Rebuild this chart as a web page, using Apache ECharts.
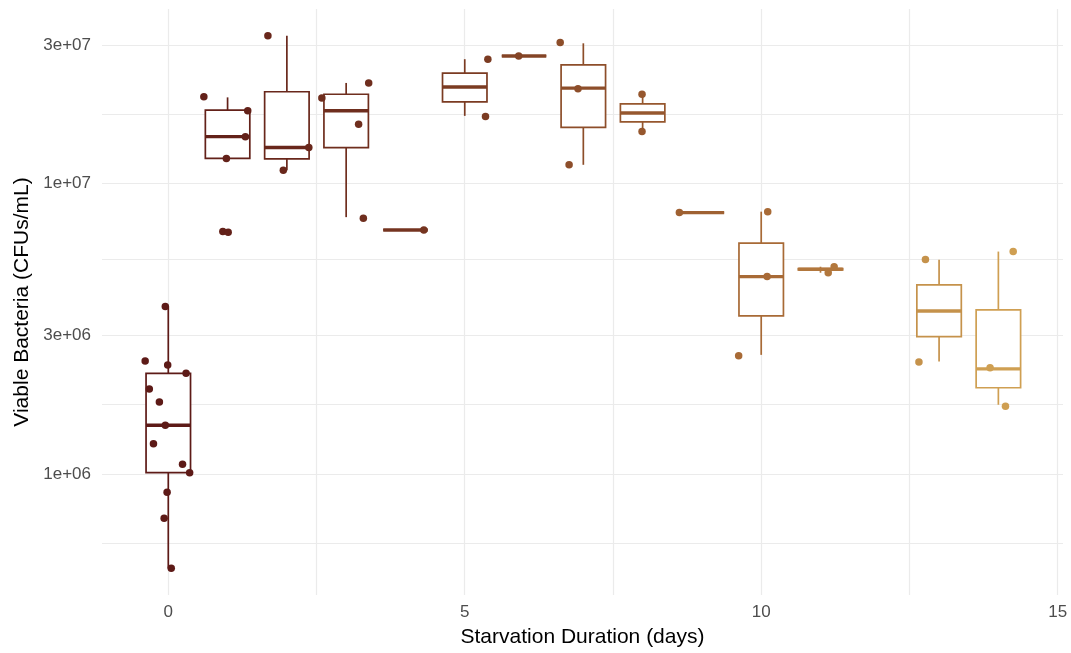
<!DOCTYPE html>
<html>
<head>
<meta charset="utf-8">
<title>Viable bacteria vs starvation duration</title>
<script src="https://cdn.jsdelivr.net/npm/echarts@6/dist/echarts.min.js"></script>
<style>
  html, body { margin: 0; padding: 0; background: #fff; }
  #chart { width: 1071px; height: 653px; }
</style>
</head>
<body>
<div id="chart"></div>
<script>
// box statistics per sampling day (CFUs/mL)
const boxDays   = [0, 1, 2, 3, 4, 5, 6, 7, 8, 9, 10, 11, 13, 14]
const boxLow    = [4.73e5, 1.22e7, 1.11e7, 7.66e6, 6.92e6, 1.71e7, 2.75e7, 1.16e7, 1.51e7, 7.94e6, 2.57e6, 4.93e6, 2.44e6, 1.73e6]
const boxQ1     = [1.01e6, 1.22e7, 1.215e7, 1.33e7, 6.92e6, 1.91e7, 2.75e7, 1.56e7, 1.63e7, 7.94e6, 3.50e6, 5.04e6, 2.97e6, 1.98e6]
const boxMedian = [1.47e6, 1.45e7, 1.33e7, 1.78e7, 6.92e6, 2.15e7, 2.75e7, 2.13e7, 1.75e7, 7.94e6, 4.78e6, 5.07e6, 3.64e6, 2.30e6]
const boxQ3     = [2.22e6, 1.79e7, 2.07e7, 2.03e7, 6.92e6, 2.40e7, 2.75e7, 2.56e7, 1.88e7, 7.94e6, 6.23e6, 5.09e6, 4.48e6, 3.67e6]
const boxHigh   = [3.77e6, 1.98e7, 3.23e7, 2.22e7, 6.92e6, 2.68e7, 2.75e7, 3.04e7, 2.03e7, 7.94e6, 8.00e6, 5.17e6, 5.46e6, 5.83e6]

// jittered observations: x position (days) and count
const pointX = [
  -0.05, -0.39, -0.01, 0.30, -0.32, -0.15, -0.05, -0.25, 0.24, 0.36, -0.02, -0.07, 0.05,
  0.60, 1.34, 1.30, 0.98, 0.92, 1.01,
  1.68, 2.37, 1.94,
  3.38, 2.59, 3.21, 3.29,
  4.31,
  5.39, 5.35,
  5.91,
  6.61, 6.91, 6.76,
  7.99, 7.99,
  8.62,
  10.11, 10.10, 9.62,
  11.13, 11.23,
  12.77, 12.66,
  14.25, 13.86, 14.12
]
const pointY = [
  3.77e6, 2.45e6, 2.37e6, 2.22e6, 1.96e6, 1.77e6, 1.47e6, 1.27e6, 1.08e6, 1.01e6, 8.65e5, 7.04e5, 4.73e5,
  1.99e7, 1.78e7, 1.45e7, 1.22e7, 6.83e6, 6.80e6,
  3.23e7, 1.33e7, 1.11e7,
  2.22e7, 1.97e7, 1.60e7, 7.60e6,
  6.92e6,
  2.68e7, 1.70e7,
  2.75e7,
  3.06e7, 2.12e7, 1.16e7,
  2.03e7, 1.51e7,
  7.94e6,
  8.00e6, 4.78e6, 2.55e6,
  4.93e6, 5.17e6,
  5.47e6, 2.43e6,
  5.83e6, 2.32e6, 1.71e6
]

const xLabels = [0, 5, 10, 15]
const xTicks = [0, 2.5, 5, 7.5, 10, 12.5, 15]
const yLabelValues = [1e6, 3e6, 1e7, 3e7]
const yLabelText = ['1e+06', '3e+06', '1e+07', '3e+07']

// colour ramp by day
const colorStops = [[0, '#5D1A17'], [5, '#7B3B22'], [10, '#A86A36'], [14, '#CF9F52']]

function hexToRgb (h) {
  return [1, 3, 5].map(i => parseInt(h.substr(i, 2), 16))
}
function dayColor (d) {
  d = Math.max(0, Math.min(14, d))
  let i = 0
  while (i < colorStops.length - 2 && d > colorStops[i + 1][0]) i++
  const [d0, c0] = colorStops[i]
  const [d1, c1] = colorStops[i + 1]
  const t = (d - d0) / (d1 - d0)
  const a = hexToRgb(c0)
  const b = hexToRgb(c1)
  const c = a.map((v, k) => Math.round(v + (b[k] - v) * t))
  return `rgb(${c[0]},${c[1]},${c[2]})`
}

const lg = Math.log10
// ggplot minor breaks sit halfway between the majors in log space
const majorLog = yLabelValues.map(lg)
const yTicks = [majorLog[0] - (majorLog[1] - majorLog[0]) / 2]
majorLog.forEach((v, i) => {
  yTicks.push(v)
  if (i < majorLog.length - 1) yTicks.push((v + majorLog[i + 1]) / 2)
})

const boxData = boxDays.map((d, i) => [d, lg(boxLow[i]), lg(boxQ1[i]), lg(boxMedian[i]), lg(boxQ3[i]), lg(boxHigh[i])])
const pointData = pointX.map((x, i) => ({
  value: [x, lg(pointY[i])],
  itemStyle: { color: dayColor(Math.round(x)), opacity: 1 }
}))

const fontFamily = '"Liberation Sans", Arial, Helvetica, sans-serif'

const chart = echarts.init(document.getElementById('chart'), null, { renderer: 'canvas' })
chart.setOption({
  animation: false,
  backgroundColor: '#fff',
  grid: { left: 102, right: 8, top: 9, bottom: 58 },
  xAxis: {
    type: 'value',
    min: -1.118,
    max: 15.09,
    name: 'Starvation Duration (days)',
    nameLocation: 'middle',
    nameGap: 32,
    nameTextStyle: { fontSize: 21, color: '#000', fontFamily },
    axisLine: { show: false },
    axisTick: { show: false, customValues: xTicks },
    axisLabel: {
      customValues: xLabels,
      fontSize: 17,
      color: '#4D4D4D',
      fontFamily,
      margin: 9
    },
    splitLine: { show: true, lineStyle: { color: '#EBEBEB', width: 1.2 } }
  },
  yAxis: {
    type: 'value',
    min: 5.583,
    max: 7.601,
    name: 'Viable Bacteria (CFUs/mL)',
    nameLocation: 'middle',
    nameGap: 68,
    nameTextStyle: { fontSize: 21, color: '#000', fontFamily },
    axisLine: { show: false },
    axisTick: { show: false, customValues: yTicks },
    axisLabel: {
      customValues: majorLog,
      fontSize: 17,
      color: '#4D4D4D',
      fontFamily,
      margin: 11,
      formatter: (v) => {
        const i = majorLog.findIndex(m => Math.abs(m - v) < 1e-6)
        return i >= 0 ? yLabelText[i] : ''
      }
    },
    splitLine: { show: true, lineStyle: { color: '#EBEBEB', width: 1.2 } }
  },
  series: [
    {
      type: 'custom',
      name: 'box',
      data: boxData,
      encode: { x: 0, y: [1, 2, 3, 4, 5] },
      renderItem: (params, api) => {
        const day = api.value(0)
        const col = dayColor(day)
        const lo = api.coord([day, api.value(1)])
        const q1 = api.coord([day, api.value(2)])
        const med = api.coord([day, api.value(3)])
        const q3 = api.coord([day, api.value(4)])
        const hi = api.coord([day, api.value(5)])
        const half = api.size([0.375, 0])[0]
        const cx = lo[0]
        const line = { stroke: col, lineWidth: 1.7 }
        return {
          type: 'group',
          children: [
            { type: 'line', shape: { x1: cx, y1: q3[1], x2: cx, y2: hi[1] }, style: line },
            { type: 'line', shape: { x1: cx, y1: q1[1], x2: cx, y2: lo[1] }, style: line },
            {
              type: 'rect',
              shape: { x: cx - half, y: q3[1], width: half * 2, height: q1[1] - q3[1] },
              style: { fill: '#fff', stroke: col, lineWidth: 1.7 }
            },
            {
              type: 'line',
              shape: { x1: cx - half, y1: med[1], x2: cx + half, y2: med[1] },
              style: { stroke: col, lineWidth: 3.4 }
            }
          ]
        }
      },
      z: 2
    },
    {
      type: 'scatter',
      name: 'points',
      data: pointData,
      symbol: 'circle',
      symbolSize: 7.5,
      z: 3
    }
  ]
})
</script>
</body>
</html>
